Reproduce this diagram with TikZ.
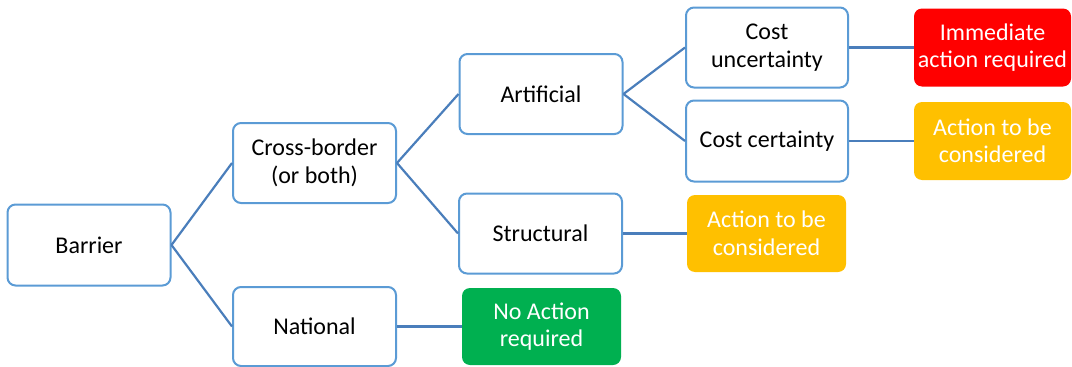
\documentclass[tikz,border=0pt]{standalone}
\usepackage{fontspec}
\setmainfont{Carlito}
\definecolor{boxblue}{HTML}{5B9BD5}
\definecolor{lineblue}{HTML}{4A7EBB}
\definecolor{redfill}{HTML}{FF0000}
\definecolor{orangefill}{HTML}{FFC000}
\definecolor{greenfill}{HTML}{00B050}
\begin{document}
\begin{tikzpicture}[x=1pt,y=-1pt,
  base/.style={rectangle, rounded corners=8pt, inner sep=0pt, align=center,
    font=\fontsize{24}{27.5}\selectfont},
  dbox/.style={base, draw=boxblue, line width=2pt, fill=white, text=black},
  obox/.style={base, draw=none, text=white},
  conn/.style={draw=lineblue, line width=2.2pt}]
\useasboundingbox (0,0) rectangle (1072,367);
% decision boxes
\node[dbox, minimum width=163pt, minimum height=81pt] (barrier) at (89,245) {Barrier};
\node[dbox, minimum width=163pt, minimum height=80pt] (cross) at (314.5,163) {Cross-border\\(or both)};
\node[dbox, minimum width=163pt, minimum height=79pt] (national) at (314.5,326.5) {National};
\node[dbox, minimum width=163pt, minimum height=80pt] (artificial) at (541,94) {Artificial};
\node[dbox, minimum width=163pt, minimum height=80pt] (structural) at (540.5,233.5) {Structural};
\node[dbox, minimum width=162pt, minimum height=80pt] (uncert) at (767,47.5) {Cost\\uncertainty};
\node[dbox, minimum width=162pt, minimum height=81pt] (cert) at (767,141) {Cost certainty};
% outcome boxes
\node[obox, fill=redfill, minimum width=157pt, minimum height=78pt] (immediate) at (992.5,47.5) {Immediate\\action required};
\node[obox, fill=orangefill, minimum width=157pt, minimum height=78pt] (consider1) at (992.5,141) {Action to be\\considered};
\node[obox, fill=orangefill, minimum width=159pt, minimum height=77pt] (consider2) at (766.5,233.5) {Action to be\\considered};
\node[obox, fill=greenfill, minimum width=159pt, minimum height=77pt] (noaction) at (541.5,326.5) {No Action\\required};
% connectors
\draw[conn] (barrier.east) -- (cross.west);
\draw[conn] (barrier.east) -- (national.west);
\draw[conn] (cross.east) -- (artificial.west);
\draw[conn] (cross.east) -- (structural.west);
\draw[conn] (artificial.east) -- (uncert.west);
\draw[conn] (artificial.east) -- (cert.west);
\draw[conn] (uncert.east) -- (immediate.west);
\draw[conn] (cert.east) -- (consider1.west);
\draw[conn] (structural.east) -- (consider2.west);
\draw[conn] (national.east) -- (noaction.west);
\end{tikzpicture}
\end{document}
